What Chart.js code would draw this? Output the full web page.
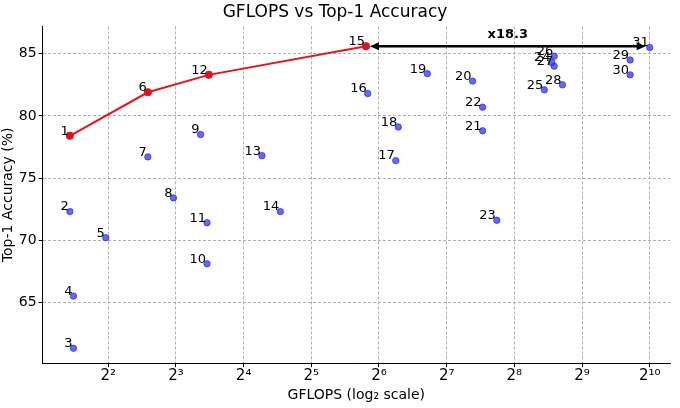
<!DOCTYPE html>
<html>
<head>
<meta charset="utf-8">
<script src="https://cdn.jsdelivr.net/npm/chart.js@4"></script>
<style>
  body { margin: 0; background: #fff; }
  #wrap { width: 680px; height: 408px; }
</style>
</head>
<body>
<div id="wrap"><canvas id="grafico"></canvas></div>
<script>
// model ids, GFLOPS, top-1 accuracy
const ids = [1,2,3,4,5,6,7,8,9,10,11,12,13,14,15,16,17,18,19,20,21,22,23,24,25,26,27,28,29,30,31];
const gflops = [2.7,2.7,2.8,2.8,3.9,6.0,6.0,7.8,10.3,11.0,11.0,11.2,19.3,23.3,56,57,76,78,105,167,185,185,214,375,348,385,385,419,838,838,1024];
const accuracy = [78.4,72.3,61.3,65.5,70.2,81.9,76.7,73.4,78.5,68.1,71.4,83.3,76.8,72.3,85.6,81.8,76.4,79.1,83.4,82.8,78.8,80.7,71.6,84.3,82.1,84.8,84.0,82.5,84.5,83.3,85.5];
const frontier = [1, 6, 12, 15];
const xTicks = [4, 8, 16, 32, 64, 128, 256, 512, 1024];
const yTicks = [65, 70, 75, 80, 85];
const speedup = "x18.3";

const sup = { "0":"⁰","1":"¹","2":"²","3":"³","4":"⁴","5":"⁵","6":"⁶","7":"⁷","8":"⁸","9":"⁹" };
function pow2Label(v) {
    let n = String(Math.round(Math.log2(v)));
    return "2" + n.split("").map(c => sup[c]).join("");
}

let punti = ids.map((id, i) => ({ x: gflops[i], y: accuracy[i], id: id }));
let linea = frontier.map(id => punti[ids.indexOf(id)]);

const etichette = {
    id: "etichette",
    afterDatasetsDraw(chart) {
        const ctx = chart.ctx;
        const xs = chart.scales.x, ys = chart.scales.y;
        ctx.save();
        ctx.font = "13px 'DejaVu Sans'";
        ctx.fillStyle = "#000";
        ctx.textAlign = "right";
        ctx.textBaseline = "bottom";
        punti.forEach(p => {
            ctx.fillText(String(p.id), xs.getPixelForValue(p.x) - 1, ys.getPixelForValue(p.y) + 2);
        });
        // arrow between model 15 and model 31
        let a = punti[ids.indexOf(15)], b = punti[ids.indexOf(31)];
        let x1 = xs.getPixelForValue(a.x) + 4, x2 = xs.getPixelForValue(b.x) - 4;
        let yy = ys.getPixelForValue(a.y);
        ctx.strokeStyle = "#000";
        ctx.fillStyle = "#000";
        ctx.lineWidth = 2.5;
        ctx.beginPath(); ctx.moveTo(x1 + 6, yy); ctx.lineTo(x2 - 6, yy); ctx.stroke();
        ctx.beginPath(); ctx.moveTo(x1, yy); ctx.lineTo(x1 + 9, yy - 4); ctx.lineTo(x1 + 9, yy + 4); ctx.fill();
        ctx.beginPath(); ctx.moveTo(x2, yy); ctx.lineTo(x2 - 9, yy - 4); ctx.lineTo(x2 - 9, yy + 4); ctx.fill();
        ctx.font = "bold 13px 'DejaVu Sans'";
        ctx.textAlign = "center";
        ctx.fillText(speedup, (x1 + x2) / 2, yy - 5);
        ctx.restore();
    }
};

const ctx = document.getElementById("grafico").getContext("2d");
new Chart(ctx, {
    type: "scatter",
    data: {
        datasets: [
            { type: "line", data: linea, borderColor: "#e8141c", backgroundColor: "#d6142a",
              borderWidth: 2, pointRadius: 3, order: 0 },
            { data: punti, backgroundColor: "rgba(40,40,240,0.7)", borderColor: "rgba(40,40,240,0.7)",
              pointRadius: 3.2, order: 1 }
        ]
    },
    options: {
        responsive: true,
        maintainAspectRatio: false,
        animation: false,
        layout: { padding: { right: 10, top: 0, bottom: 2, left: 0 } },
        plugins: {
            legend: { display: false },
            tooltip: { enabled: false },
            title: { display: true, text: "GFLOPS vs Top-1 Accuracy", color: "#000",
                     font: { family: "DejaVu Sans", size: 17, weight: "normal" }, padding: { top: 2, bottom: 4 } }
        },
        scales: {
            x: {
                type: "logarithmic",
                min: Math.pow(2, 1.03),
                max: Math.pow(2, 10.3),
                afterBuildTicks: s => { s.ticks = xTicks.map(v => ({ value: v })); },
                ticks: { callback: v => pow2Label(v), color: "#000", font: { family: "DejaVu Sans", size: 15 }, maxRotation: 0, padding: 0 },
                grid: { color: "#b0b0b0", tickColor: "#000", tickLength: 4 },
                border: { color: "#000", dash: [3, 2] },
                title: { display: true, text: "GFLOPS (log₂ scale)", color: "#000", font: { family: "DejaVu Sans", size: 14 }, padding: 2 }
            },
            y: {
                min: 60.1,
                max: 87.2,
                afterBuildTicks: s => { s.ticks = yTicks.map(v => ({ value: v })); },
                ticks: { color: "#000", font: { family: "DejaVu Sans", size: 14 }, padding: 2 },
                grid: { color: "#b0b0b0", tickColor: "#000", tickLength: 4 },
                border: { color: "#000", dash: [3, 2] },
                title: { display: true, text: "Top-1 Accuracy (%)", color: "#000", font: { family: "DejaVu Sans", size: 14 }, padding: 0 }
            }
        }
    },
    plugins: [etichette]
});
</script>
</body>
</html>
